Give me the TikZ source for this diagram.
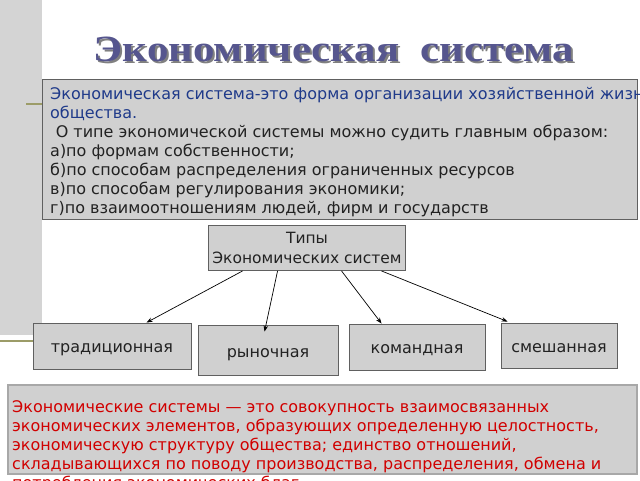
\documentclass[tikz,border=0pt]{standalone}
\usepackage{fontspec}
\setmainfont{DejaVu Sans}
\newfontfamily\titlefont{Liberation Serif}
\usetikzlibrary{arrows.meta,calc}
\definecolor{boxfill}{HTML}{D0D0D0}
\definecolor{barfill}{HTML}{D4D4D4}
\definecolor{boxline}{HTML}{606060}
\definecolor{lightline}{HTML}{A8A8A8}
\definecolor{olive}{HTML}{9C9C68}
\definecolor{titleblue}{HTML}{56568E}
\definecolor{darkblue}{HTML}{1F3A8A}
\definecolor{redtext}{HTML}{D00000}
\definecolor{bodytext}{HTML}{222222}
\tikzset{
  greybox/.style={draw=boxline, fill=boxfill, line width=0.9pt, inner sep=0pt},
  typebox/.style={greybox, font=\fontsize{16}{20}\selectfont, text=bodytext, text height=13pt, text depth=0pt},
  conn/.style={draw=black, line width=0.7pt, -{Stealth[length=6pt,width=4.5pt]}},
  oliveline/.style={draw=olive, line width=2pt},
  titletext/.style={font=\titlefont\bfseries\fontsize{37}{40}\selectfont, xscale=1.16, transform shape}
}
\begin{document}
\begin{tikzpicture}[x=1pt,y=-1pt]
\useasboundingbox (0,0) rectangle (640,480);
\fill[white] (0,0) rectangle (640,480);
% left grey bar and olive accents
\fill[barfill] (0,0) rectangle (42,335);
\draw[oliveline] (26,104) -- (42,104);
\draw[oliveline] (0,341) -- (33,341);
% title with shadow
\node[titletext, text=black!50] (titleshadow) at (336,51.5) {Экономическая\ \ система};
\node[titletext, text=titleblue] (title) at (334,49.5) {Экономическая\ \ система};
% definition box
\node[greybox, anchor=north west, minimum width=595pt, minimum height=140pt] (defbox) at (42,79) {};
\node[anchor=north west, align=left, inner sep=0pt, font=\fontsize{16}{19}\selectfont] (deftext) at (50,87)
  {\textcolor{darkblue}{Экономическая система-это форма организации хозяйственной жизни}\\
   \textcolor{darkblue}{общества.}\\
   \textcolor{bodytext}{\hspace{0.35em}О типе экономической системы можно судить главным образом:}\\
   \textcolor{bodytext}{а)по формам собственности;}\\
   \textcolor{bodytext}{б)по способам распределения ограниченных ресурсов}\\
   \textcolor{bodytext}{в)по способам регулирования экономики;}\\
   \textcolor{bodytext}{г)по взаимоотношениям людей, фирм и государств}};
% types box
\node[greybox, font=\fontsize{15.5}{20}\selectfont, text=bodytext, minimum width=197pt, minimum height=45pt, align=center] (types) at (307,248) {Типы\\Экономических систем};
% four type boxes
\node[typebox, minimum width=158pt, minimum height=46pt] (trad) at (112,346) {традиционная};
\node[typebox, minimum width=140pt, minimum height=50pt, text height=14pt] (ryn) at (268,350) {рыночная};
\node[typebox, minimum width=136pt, minimum height=46pt] (kom) at (417,347) {командная};
\node[typebox, minimum width=116pt, minimum height=45pt] (sme) at (559,345.5) {смешанная};
% connectors
\draw[conn] ($(types.south west)+(34.5,0)$) -- ($(trad.north west)+(114,0)$);
\draw[conn] ($(types.south west)+(69.5,0)$) -- ($(ryn.north west)+(67,7)$);
\draw[conn] ($(types.south west)+(133.5,0)$) -- ($(kom.north west)+(33,0)$);
\draw[conn] ($(types.south west)+(173.5,0)$) -- ($(sme.north west)+(7,-1)$);
% bottom box
\node[draw=lightline, fill=boxfill, line width=1.5pt, anchor=north west, minimum width=629pt, minimum height=89pt, inner sep=0pt] (botbox) at (7,384) {};
\node[anchor=north west, align=left, inner sep=0pt, text=redtext, font=\fontsize{16}{19}\selectfont] (bottext) at (12,400.5)
  {Экономические системы — это совокупность взаимосвязанных\\
   экономических элементов, образующих определенную целостность,\\
   экономическую структуру общества; единство отношений,\\
   складывающихся по поводу производства, распределения, обмена и\\
   потребления экономических благ.};
\end{tikzpicture}
\end{document}
